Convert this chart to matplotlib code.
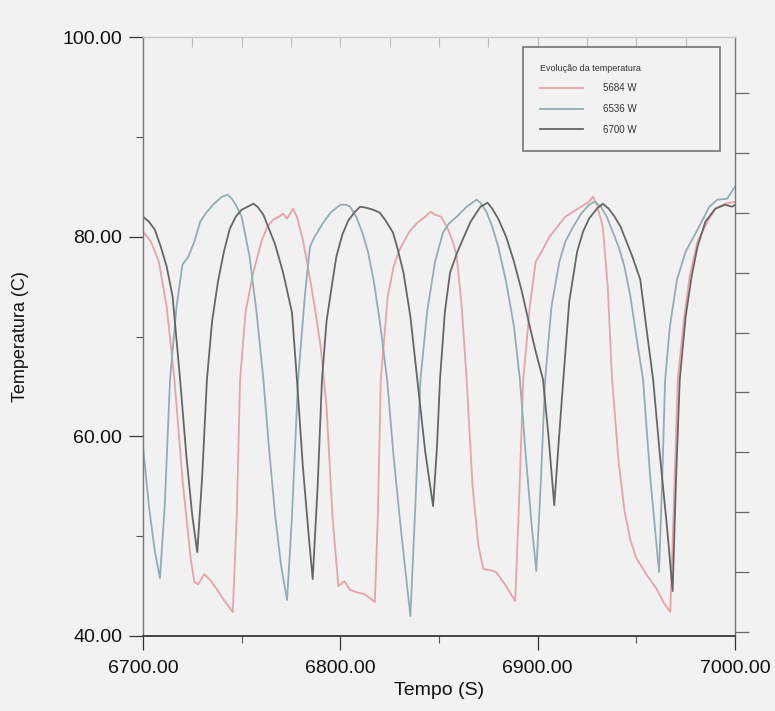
import matplotlib
matplotlib.use("Agg")
import matplotlib.pyplot as plt
from matplotlib.ticker import MultipleLocator, FormatStrFormatter

plt.rcParams['font.family'] = ['Liberation Sans', 'DejaVu Sans']

# ---- data ----
t_5684 = [6700, 6704, 6708, 6712, 6716, 6720, 6724, 6726, 6728, 6731, 6734, 6737, 6741, 6745.5,
          6747.5, 6749.2, 6752, 6756, 6760, 6763, 6766, 6769, 6771, 6773, 6776, 6778, 6781, 6784,
          6787, 6790, 6793, 6796, 6799, 6802, 6805, 6808, 6812, 6815, 6817.5, 6819, 6820.5, 6824,
          6827, 6830, 6835, 6839, 6843, 6845.7, 6848, 6851, 6854, 6857, 6859, 6861.5, 6864, 6867,
          6870, 6872.5, 6876, 6879, 6884, 6888.6, 6890.5, 6892.7, 6896, 6899, 6902, 6906, 6910,
          6914, 6918, 6922, 6926, 6928, 6930, 6933, 6935.5, 6937.7, 6941, 6944, 6947, 6950, 6955,
          6960, 6964, 6967.2, 6969, 6971, 6974, 6977, 6981, 6986, 6990, 6995, 7000]
T_5684 = [80.5, 79.5, 77.5, 73.0, 65.5, 55.7, 48.0, 45.4, 45.2, 46.2, 45.6, 44.8, 43.6, 42.4,
          52.0, 65.7, 72.5, 76.5, 79.5, 81.0, 81.7, 82.0, 82.3, 81.8, 82.8, 82.0, 79.7, 76.5,
          73.0, 69.0, 63.0, 52.0, 45.0, 45.5, 44.6, 44.4, 44.2, 43.8, 43.4, 52.0, 65.7, 74.0,
          77.0, 78.7, 80.5, 81.4, 82.0, 82.5, 82.2, 82.0, 81.0, 79.5, 78.0, 73.0, 65.7, 55.0,
          49.0, 46.7, 46.6, 46.4, 45.0, 43.5, 53.0, 65.7, 73.0, 77.5, 78.5, 80.0, 81.0,
          82.0, 82.5, 83.0, 83.5, 84.0, 83.2, 81.0, 75.0, 65.7, 57.5, 52.5, 49.6, 47.8, 46.2,
          44.8, 43.3, 42.4, 53.0, 65.7, 71.5, 76.0, 79.5, 81.5, 82.8, 83.3, 83.5]

t_6536 = [6700, 6703, 6706, 6708.6, 6711, 6713.7, 6717, 6720, 6723, 6726, 6729, 6732, 6736, 6740,
          6743, 6745, 6747, 6750, 6754, 6757.5, 6761, 6764, 6767, 6770, 6773, 6775.5, 6778.6, 6782,
          6784.6, 6787, 6791, 6795, 6800, 6803, 6805, 6808, 6811, 6814, 6817, 6820, 6823.7, 6827,
          6830, 6833, 6835.5, 6838, 6840.6, 6844, 6848, 6852, 6855, 6859, 6864, 6869, 6871, 6874,
          6877, 6880, 6884, 6888, 6891, 6894, 6897, 6899.3, 6901.5, 6903.8, 6907, 6911, 6914, 6918,
          6922, 6926, 6929, 6932, 6935, 6938, 6941, 6944, 6947, 6950, 6953.4, 6957, 6961.5, 6963,
          6964.6, 6967, 6970.6, 6975, 6981, 6987, 6991, 6996, 7000]
T_6536 = [59.0, 53.0, 48.5, 45.8, 53.0, 65.7, 73.0, 77.2, 78.0, 79.5, 81.5, 82.4, 83.3, 84.0,
          84.2, 83.8, 83.2, 82.0, 78.0, 72.5, 65.7, 58.5, 52.0, 47.0, 43.6, 52.0, 65.7, 74.0,
          79.0, 80.0, 81.3, 82.4, 83.2, 83.2, 83.0, 82.0, 80.5, 78.5, 75.5, 71.5, 65.7, 58.0,
          52.0, 46.5, 42.0, 53.0, 65.7, 72.5, 77.5, 80.4, 81.3, 82.0, 83.0, 83.7, 83.4, 82.5,
          81.0, 79.0, 75.5, 71.0, 65.7, 58.0, 51.0, 46.5, 55.0, 65.7, 73.0, 77.5, 79.5, 81.0,
          82.3, 83.2, 83.5, 83.0, 82.0, 80.5, 79.0, 77.0, 74.0, 70.0, 65.7, 56.0, 46.4, 55.0,
          65.7, 71.0, 75.7, 78.5, 80.7, 83.0, 83.7, 83.8, 85.0]

t_6700 = [6700, 6703, 6706, 6709, 6712, 6715, 6718.8, 6722, 6725, 6727.5, 6730, 6732.4, 6735, 6738,
          6741, 6744, 6747, 6750, 6753, 6756, 6758, 6761, 6764, 6767, 6771, 6775.5, 6778, 6781,
          6784, 6786, 6788.5, 6790.7, 6793, 6796, 6798, 6801, 6804, 6807, 6810, 6813, 6816.6,
          6820, 6823, 6826.7, 6829, 6832, 6835.5, 6839, 6843, 6847, 6849, 6850.5, 6853, 6855.6,
          6859, 6862, 6866, 6871, 6874.6, 6877, 6880, 6884, 6888, 6892, 6896, 6899, 6902.7, 6905.5,
          6908.4, 6910.5, 6913, 6916, 6920, 6923, 6926, 6930, 6933, 6936, 6939, 6942, 6945, 6948,
          6952, 6955, 6958.5, 6962, 6965.5, 6968.4, 6970, 6972, 6975, 6978, 6981, 6985, 6990, 6995,
          6998.5, 7000]
T_6700 = [82.0, 81.5, 80.7, 79.0, 77.0, 74.0, 65.7, 58.0, 52.0, 48.4, 56.0, 65.7, 71.5, 75.5,
          78.5, 80.8, 82.0, 82.7, 83.0, 83.3, 83.0, 82.2, 80.7, 79.2, 76.4, 72.4, 65.7, 57.0,
          50.0, 45.7, 55.0, 65.7, 71.5, 75.5, 78.0, 80.2, 81.6, 82.4, 83.0, 82.9, 82.7,
          82.4, 81.6, 80.4, 78.8, 76.4, 72.0, 65.7, 58.5, 53.0, 59.0, 65.7, 72.5, 76.4,
          78.3, 79.7, 81.5, 83.0, 83.4, 82.8, 81.8, 80.0, 77.5, 74.5, 71.0, 68.5, 65.7, 60.0,
          53.1, 59.0, 65.7, 73.5, 78.5, 80.5, 81.8, 82.8, 83.3, 82.8, 82.0, 81.0, 79.5, 78.0,
          75.7, 71.0, 65.7, 58.0, 51.0, 44.5, 55.0, 65.7, 72.0, 76.0, 79.0, 81.5, 82.8, 83.2,
          83.0, 83.2]

series_labels = ["5684 W", "6536 W", "6700 W"]
legend_title = "Evolução da temperatura"
x_major = [6700, 6800, 6900, 7000]
y_major = [40, 60, 80, 100]
right_ticks = [40.4, 46.4, 52.4, 58.4, 64.4, 70.4, 76.4, 82.4, 88.4, 94.4]

colors = ["#e8a2a8", "#93adb4", "#666666"]

# ---- figure ----
fig = plt.figure(figsize=(7.75, 7.11), dpi=100, facecolor="#f2f2f2")
ax = fig.add_axes([143/775, 1-636/711, (735-143)/775, (636-37)/711])
ax.set_facecolor("#f1f1f1")

for t, T, c, lab in zip([t_5684, t_6536, t_6700], [T_5684, T_6536, T_6700], colors, series_labels):
    ax.plot(t, T, color=c, lw=1.3, label=lab)

ax.set_xlim(6700, 7000)
ax.set_ylim(40, 100)
ax.set_xticks(x_major)
ax.set_yticks(y_major)
ax.xaxis.set_major_formatter(FormatStrFormatter("%.2f"))
ax.yaxis.set_major_formatter(FormatStrFormatter("%.2f"))
ax.xaxis.set_minor_locator(MultipleLocator(50))
ax.yaxis.set_minor_locator(MultipleLocator(10))
ax.tick_params(axis="both", which="major", direction="out", length=10, width=0.9,
               colors="#333333", labelsize=14, labelcolor="#111111")
ax.tick_params(axis="both", which="minor", direction="out", length=5, width=0.8, colors="#555555")
ax.tick_params(axis="x", pad=7)
ax.tick_params(axis="y", pad=5)

for s in ax.spines.values():
    s.set_color("#777777")
    s.set_linewidth(1.0)
ax.spines["bottom"].set_color("#444444")
ax.spines["bottom"].set_linewidth(1.4)
ax.spines["top"].set_color("#c8c8c8")

ax2 = ax.twinx()
ax2.set_ylim(40, 100)
ax2.set_yticks(right_ticks)
ax2.set_yticklabels([])
ax2.tick_params(axis="y", direction="out", length=10, width=0.9, colors="#666666")
for s in ax2.spines.values():
    s.set_visible(False)

top = ax.secondary_xaxis("top")
top.set_xticks(list(range(6725, 7000, 25)))
top.set_xticklabels([])
top.tick_params(direction="in", length=7, width=0.8, colors="#bbbbbb")
top.spines["top"].set_visible(False)

ax.set_xlabel("Tempo (S)", fontsize=14, labelpad=4, color="#111111")
ax.set_ylabel("Temperatura (C)", fontsize=13, labelpad=24, color="#111111")

leg = ax.legend(title=legend_title, loc="upper left", bbox_to_anchor=(0.642, 0.803, 0.333, 0.18),
                mode="expand", fontsize=7, title_fontsize=6.5, handlelength=4.5, handletextpad=2.0,
                labelspacing=1.1, borderpad=1.7, fancybox=False, frameon=True,
                alignment="left", borderaxespad=0)
leg.get_frame().set_edgecolor("#555555")
leg.get_frame().set_linewidth(1.2)
leg.get_frame().set_facecolor("#f3f3f3")
for txt in leg.get_texts():
    txt.set_color("#333333")
leg.get_title().set_color("#333333")

fig.savefig("out.png", dpi=100, facecolor=fig.get_facecolor())
